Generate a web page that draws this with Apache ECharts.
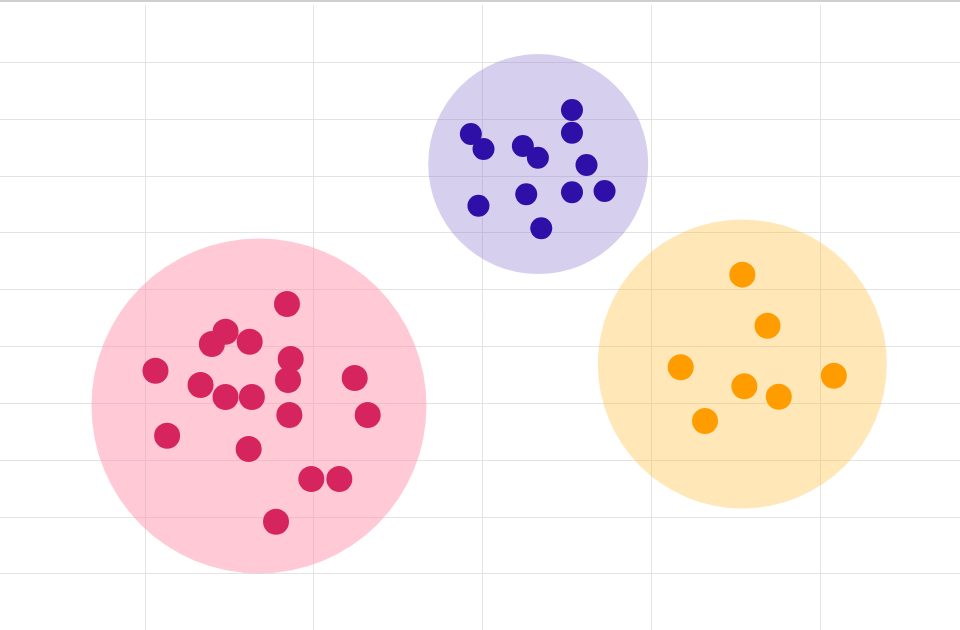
<!DOCTYPE html>
<html>
<head>
<meta charset="utf-8">
<script src="https://cdn.jsdelivr.net/npm/echarts@6/dist/echarts.min.js"></script>
<style>
html,body{margin:0;padding:0;background:#fff;width:960px;height:630px;overflow:hidden;position:relative;}
#main{position:absolute;left:-24px;top:0;width:1013px;height:632px;}
#topline{position:absolute;left:0;top:0;width:960px;height:2px;background:#cfcfcf;z-index:5;}
</style>
</head>
<body>
<div id="main"></div>
<div id="topline"></div>
<script>
// Cluster A (red)
var redX = [18.42,14.78,13.97,16.21,10.63,18.64,18.48,13.30,14.78,16.34,22.43,18.56,23.20,11.32,16.15,19.86,21.52,17.77];
var redY = [57.44,52.57,50.40,50.81,45.71,47.77,44.07,43.19,41.08,41.08,44.42,37.91,37.91,34.27,31.93,26.65,26.65,19.14];
// Cluster B (purple)
var purpleX = [35.30,35.30,29.31,30.06,32.39,33.28,36.16,29.76,32.59,35.30,37.23,33.48];
var purpleY = [91.57,87.58,87.35,84.71,85.24,83.18,81.90,74.74,76.74,77.09,77.32,70.76];
// Cluster C (orange)
var orangeX = [45.39,46.88,41.74,45.51,47.55,50.81,43.18];
var orangeY = [62.60,53.62,46.31,42.96,41.13,44.83,36.86];
// Cluster centers
var centerX = [16.76,33.30,45.39];
var centerY = [39.50,82.07,46.89];

function pts(xs, ys){ return xs.map(function(x,i){ return [x, ys[i]]; }); }

var circleSizes = [335, 220, 289];
var circleColors = ['rgba(255,147,173,0.5)','rgba(138,121,206,0.35)','rgba(255,192,68,0.38)'];

var chart = echarts.init(document.getElementById('main'), null, {renderer:'canvas'});
var series = [];
for (var i = 0; i < 3; i++) {
  series.push({
    type:'scatter',
    data:[[centerX[i], centerY[i]]],
    symbolSize: circleSizes[i],
    itemStyle:{color: circleColors[i], opacity:1},
    silent:true,
    z:1
  });
}
series.push({type:'scatter', data:pts(redX,redY), symbolSize:26, itemStyle:{color:'#D6255E', opacity:1}, z:3});
series.push({type:'scatter', data:pts(purpleX,purpleY), symbolSize:22, itemStyle:{color:'#2E10A8', opacity:1}, z:3});
series.push({type:'scatter', data:pts(orangeX,orangeY), symbolSize:26, itemStyle:{color:'#FF9D00', opacity:1}, z:3});

chart.setOption({
  animation:false,
  backgroundColor:'#fff',
  grid:{left:0, right:0, top:5.26, bottom:1.5, containLabel:false},
  xAxis:{
    type:'value', min:0, max:60, interval:10,
    axisLine:{show:false},
    axisTick:{show:false}, axisLabel:{show:false},
    splitLine:{show:true, showMinLine:false, showMaxLine:false, lineStyle:{color:'#e3e3e3', width:1}}
  },
  yAxis:{
    type:'value', min:0, max:110, interval:10,
    axisLine:{show:false}, axisTick:{show:false}, axisLabel:{show:false},
    splitLine:{show:true, showMinLine:false, showMaxLine:false, lineStyle:{color:'#e3e3e3', width:1}}
  },
  series: series
});
</script>
</body>
</html>
